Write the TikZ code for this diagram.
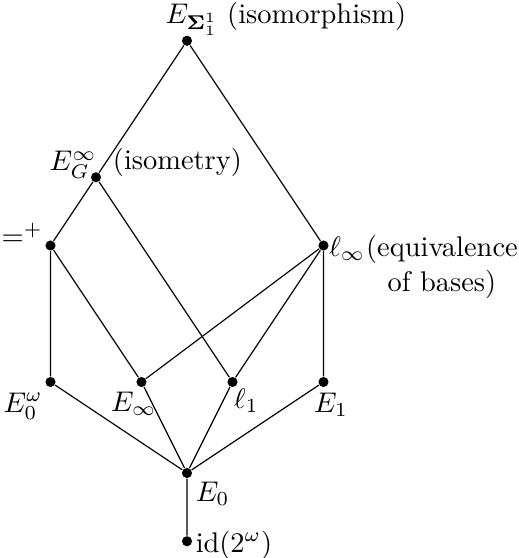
\documentclass[tikz,border=0pt]{standalone}
\usepackage{amsmath,amssymb}
\usepackage{tikz}

\begin{document}
\begin{tikzpicture}[x=1.125cm,y=1.125cm,
  pt/.style={circle,fill=black,inner sep=0pt,minimum size=1.25mm},
  lbl/.style={inner sep=0pt}]
\useasboundingbox (-2.055,-0.934) rectangle (3.648,5.198);
% the points
\node[pt] (iso) at (0,4.75) {};
\node[pt] (isom) at (-1,3.25) {};
\node[pt] (eqp) at (-1.5,2.5) {};
\node[pt] (linf) at (1.5,2.5) {};
\node[pt] (Eom) at (-1.5,1) {};
\node[pt] (Einf) at (-0.5,1) {};
\node[pt] (lone) at (0.5,1) {};
\node[pt] (Eone) at (1.5,1) {};
\node[pt] (Ezero) at (0,0) {};
\node[pt] (id) at (0,-0.75) {};
% the lines
\draw (iso) -- (isom) -- (eqp) -- (Eom) -- (Ezero) -- (id);
\draw (iso) -- (linf) -- (Eone) -- (Ezero);
\draw (isom) -- (lone) -- (Ezero);
\draw (eqp) -- (Einf) -- (Ezero);
\draw (linf) -- (Einf);
\draw (linf) -- (lone);
% the labels
\node[lbl,anchor=base west] (isoL) at (-0.24,4.94) {$E_{\boldsymbol{\Sigma}^1_1}$ (isomorphism)};
\node[lbl,anchor=base east] (isomL) at (-0.99,3.32) {$E_G^\infty$};
\node[lbl,anchor=base west] (isomT) at (-0.82,3.34) {(isometry)};
\node[lbl,anchor=base east] (eqpL) at (-1.58,2.5) {$=^+$};
\node[lbl,anchor=base west] (linfL) at (1.555,2.38) {$\ell_\infty$};
\node[lbl,anchor=base west] (linfT) at (linfL.base east) {(equivalence};
\node[lbl,anchor=base] (linfU) at ([yshift=-0.385*1.125cm]linfT.base) {of bases)};
\node[lbl,anchor=base east] (EomL) at (-1.58,0.67) {$E_0^\omega$};
\node[lbl,anchor=base west] (EinfL) at (-0.84,0.68) {$E_\infty$};
\node[lbl,anchor=base west] (loneL) at (0.51,0.71) {$\ell_1$};
\node[lbl,anchor=base west] (EoneL) at (1.39,0.67) {$E_1$};
\node[lbl,anchor=base west] (EzeroL) at (0.09,-0.31) {$E_0$};
\node[lbl,anchor=base west] (idL) at (0.09,-0.87) {id$(2^\omega)$};
\end{tikzpicture}
\end{document}
